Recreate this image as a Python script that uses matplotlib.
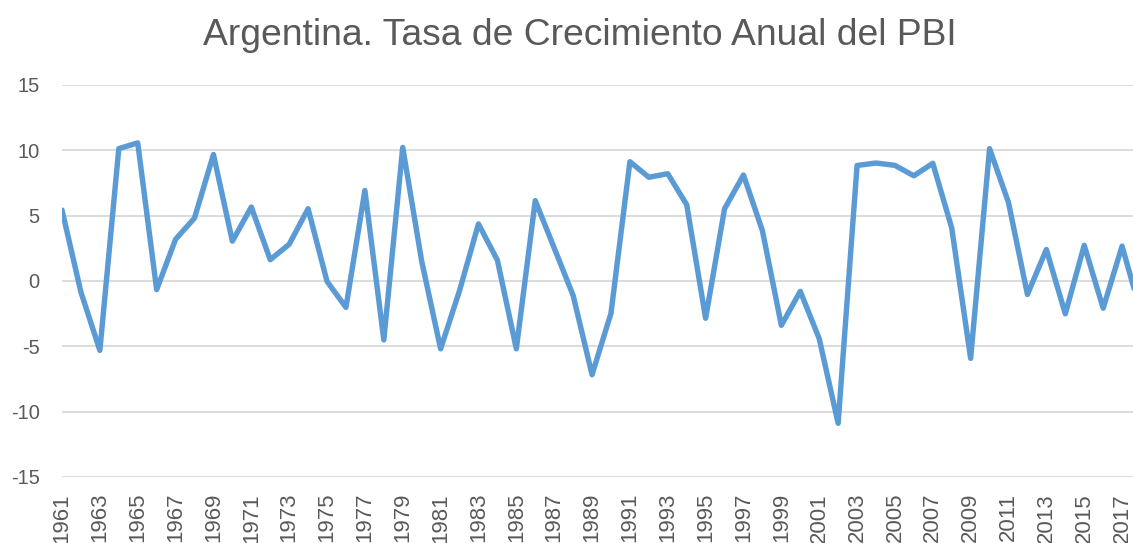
import numpy as np
import matplotlib
matplotlib.use("Agg")
from matplotlib import pyplot as plt

plt.rcParams['font.family'] = ['Liberation Sans', 'DejaVu Sans']
plt.rcParams['axes.unicode_minus'] = False

years = np.arange(1961, 2019)
growth = [5.43, -0.85, -5.31, 10.13, 10.57, -0.66, 3.19, 4.82, 9.68, 3.05,
          5.66, 1.63, 2.81, 5.53, -0.03, -2.02, 6.93, -4.51, 10.22, 1.52,
          -5.19, -0.74, 4.37, 1.59, -5.19, 6.15, 2.53, -1.10, -7.17, -2.47,
          9.13, 7.94, 8.21, 5.84, -2.85, 5.53, 8.11, 3.85, -3.39, -0.79,
          -4.41, -10.89, 8.84, 9.03, 8.85, 8.05, 9.01, 4.06, -5.92, 10.13,
          6.00, -1.03, 2.41, -2.51, 2.73, -2.08, 2.67, -2.48]
tick_years = list(range(1961, 2018, 2))
y_ticks = [-15, -10, -5, 0, 5, 10, 15]

title = "Argentina. Tasa de Crecimiento Anual del PBI"
text_color = "#595959"
line_color = "#5B9BD5"
grid_color = "#D9D9D9"

W, H = 1133, 543
fig = plt.figure(figsize=(W / 100, H / 100), dpi=100)

# plot area in pixels: left 62, right runs off the image, 15 at y=85, -15 at y=477
ax = fig.add_axes([62 / W, (H - 477) / H, 1 - 62 / W, (477 - 85) / H])
ax.plot(years, growth, color=line_color, linewidth=3.9,
        solid_joinstyle="round", solid_capstyle="round")

ax.set_xlim(1961, 1961 + (W - 62) / 18.93)
ax.set_ylim(-15, 15)
ax.set_yticks(y_ticks)
ax.set_xticks(tick_years)
ax.set_xticklabels([str(y) for y in tick_years], rotation=90)

ax.grid(axis="y", color=grid_color, linewidth=1.3)
ax.set_axisbelow(True)
for s in ax.spines.values():
    s.set_visible(False)

ax.tick_params(axis="x", length=0, pad=11.5, labelsize=16, labelcolor=text_color)
ax.tick_params(axis="y", length=0, pad=16, labelsize=14.5, labelcolor=text_color)
for lbl in ax.get_xticklabels():
    lbl.set_verticalalignment("top")

fig.text(580 / W, (H - 45) / H, title, ha="center", va="baseline",
         fontsize=26.8, color=text_color)

fig.savefig("out.png", dpi=100)
